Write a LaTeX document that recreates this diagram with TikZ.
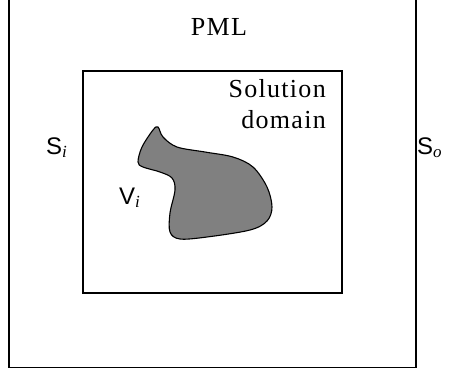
\documentclass[tikz,border=0pt]{standalone}
\usepackage{fontspec}
\setmainfont{Liberation Serif}
\newfontfamily\arialf{Liberation Sans}
\newfontfamily\timesf[LetterSpace=5]{Liberation Serif}
\newfontfamily\timesi{Liberation Serif}
\begin{document}
\begin{tikzpicture}[x=1pt,y=-1pt,
  box/.style={draw=black,line width=1.1pt},
  serifl/.style={font=\timesf\fontsize{26}{31}\selectfont,inner sep=0pt,anchor=base},
  sansl/.style={font=\arialf\fontsize{24}{26}\selectfont,inner sep=0pt,anchor=base west},
  subl/.style={}]
\useasboundingbox (0,0) rectangle (449,373);
\draw[box] (9,-5) rectangle (416,367.5);
\draw[box] (83,71) rectangle (342,293);
\node[serifl] (pml) at (219,35) {PML};
\node[serifl,anchor=base east] (sol) at (326,97) {Solution};
\node[serifl,anchor=base east] (dom) at (326,128) {domain};
\node[sansl] (si) at (46,154) {S\rlap{\raisebox{-3pt}{\timesi\itshape\fontsize{17}{17}\selectfont i}}};
\node[sansl] (so) at (417,154) {S\rlap{\raisebox{-3pt}{\timesi\itshape\fontsize{17}{17}\selectfont o}}};
\node[sansl] (vi) at (119,204) {V\rlap{\raisebox{-3pt}{\timesi\itshape\fontsize{17}{17}\selectfont i}}};
\draw[line width=1.1pt,fill={rgb,255:red,128;green,128;blue,128}]
  plot[smooth cycle,tension=0.55] coordinates {
  (158,127) (163,137) (177,147) (205,152) (233,157) (253,167) (267,187) (272,207)
  (267,221) (250,230) (207,237) (180,239) (170,232) (170,213) (175,190) (172,178)
  (160,172) (143,167) (138,162) (142,147) (153,130)};
\end{tikzpicture}
\end{document}
